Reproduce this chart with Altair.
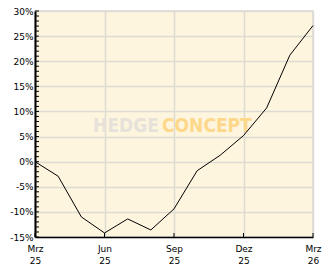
import altair as alt
import pandas as pd

# ---- data ----
month_idx = list(range(13))
returns = [0.0, -2.9, -11.0, -14.2, -11.4, -13.6, -9.4, -1.8, 1.3, 5.2, 10.7, 21.2, 27.1]
x_tick_values = [0, 3, 6, 9, 12]
x_tick_labels = ["Mrz 25", "Jun 25", "Sep 25", "Dez 25", "Mrz 26"]
y_tick_values = list(range(-15, 31, 5))
y_minor_values = list(range(-15, 31, 1))
wm_left = "HEDGE"
wm_right = "CONCEPT"

df = pd.DataFrame({"m": month_idx, "r": returns})
df_ym = pd.DataFrame({"m": [0] * len(y_minor_values), "r": y_minor_values})
df_xt = pd.DataFrame({"m": x_tick_values, "r": [-15] * len(x_tick_values)})

W, H = 278, 226
FONT = "DejaVu Sans"

xscale = alt.Scale(domain=[0, 12], nice=False, zero=False)
yscale = alt.Scale(domain=[-15, 30], nice=False, zero=False)

label_arr = "[" + ",".join("'" + s + "'" for s in x_tick_labels) + "]"

x_axis = alt.Axis(
    values=x_tick_values,
    labelExpr="split(" + label_arr + "[round(datum.value/3)], ' ')",
    title=None, grid=True, gridColor="#dedbd3", gridWidth=1.5,
    ticks=False, domainColor="#000000", domainWidth=1.5,
    labelFont=FONT, labelFontSize=9, labelColor="#000000",
    labelPadding=7, labelLineHeight=12, labelOverlap=False, labelBound=False,
    labelFlush=False,
)
y_axis = alt.Axis(
    values=y_tick_values,
    labelExpr="datum.value + '%'",
    title=None, grid=True, gridColor="#dedbd3", gridWidth=1.5,
    ticks=False, domainColor="#000000", domainWidth=2,
    labelFont=FONT, labelFontSize=9, labelColor="#000000",
    labelPadding=2, labelOverlap=False, labelBound=False, labelFlush=False,
)

X = alt.X("m:Q", scale=xscale, axis=x_axis)
Y = alt.Y("r:Q", scale=yscale, axis=y_axis)

wm1 = alt.Chart(pd.DataFrame({"t": [wm_left]})).mark_text(
    font="DejaVu Sans Condensed", fontWeight="bold", fontSize=19,
    align="right", baseline="alphabetic", color="#e6e2da"
).encode(text="t:N", x=alt.value(124), y=alt.value(121))

wm2 = alt.Chart(pd.DataFrame({"t": [wm_right]})).mark_text(
    font="DejaVu Sans Condensed", fontWeight="bold", fontSize=19,
    align="left", baseline="alphabetic", color="#fdd88a"
).encode(text="t:N", x=alt.value(127), y=alt.value(121))

line = alt.Chart(df).mark_line(color="#000000", strokeWidth=1).encode(x=X, y=Y)

yticks = alt.Chart(df_ym).mark_rule(color="#000000", strokeWidth=1).encode(
    y=Y, x=alt.value(0), x2=alt.value(4),
)

xticks = alt.Chart(df_xt).mark_rule(color="#000000", strokeWidth=1).encode(
    x=X, y=alt.value(H - 4), y2=alt.value(H),
)

chart = alt.layer(wm1, wm2, line, yticks, xticks).properties(
    width=W, height=H,
    autosize=alt.AutoSizeParams(type="none"),
    padding={"left": 35, "top": 11, "right": 19, "bottom": 32},
    background="#ffffff",
).configure_view(fill="#fdf5de", stroke="#d9d9d9", strokeWidth=1.5)

chart.save("out.html", embed_options={"renderer": "svg", "actions": False})
